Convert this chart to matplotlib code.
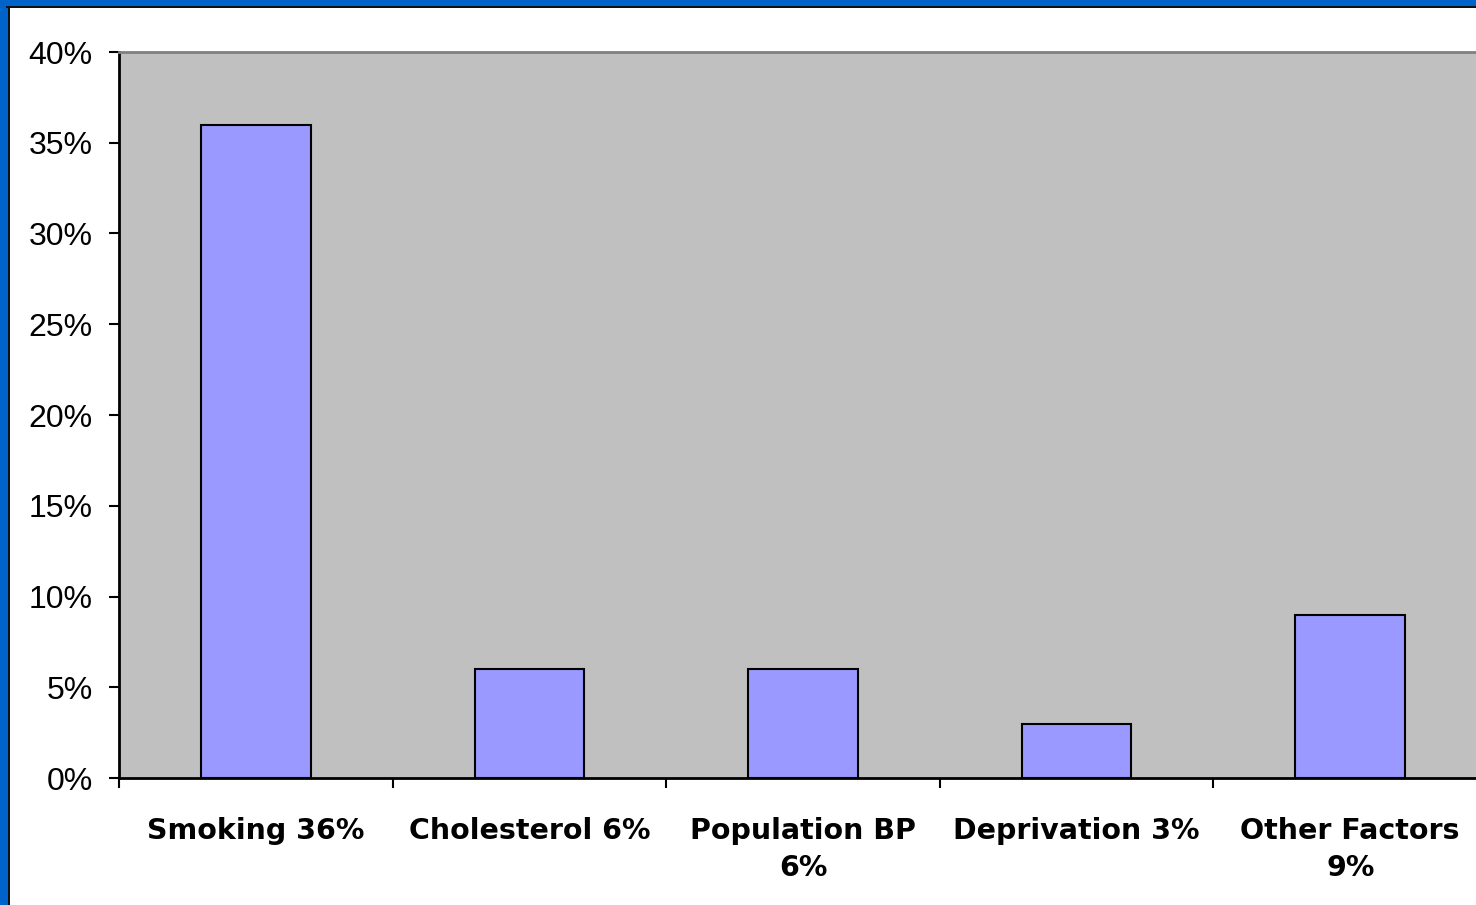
import matplotlib.pyplot as plt
from matplotlib.patches import Rectangle

categories = ["Smoking 36%", "Cholesterol 6%", "Population BP\n6%", "Deprivation 3%", "Other Factors\n9%"]
values = [36, 6, 6, 3, 9]
yticks = [0, 5, 10, 15, 20, 25, 30, 35, 40]

W, H = 1476, 905
fig = plt.figure(figsize=(W / 100, H / 100), dpi=100, facecolor="white")

# slide frame: blue band with thin dark line on left and top
px = lambda x, y, w, h: Rectangle((x / W, 1 - (y + h) / H), w / W, h / H,
                                  transform=fig.transFigure, lw=0)
for r, c in [(px(0, 0, W, 6), "#0063C9"), (px(0, 0, 8, H), "#0063C9"),
             (px(8, 6, 2, H), "#111111"), (px(6, 6, W, 2), "#111111")]:
    r.set_facecolor(c)
    fig.patches.append(r)

# axes runs slightly past the right edge
ax = fig.add_axes([119 / W, (H - 778) / H, 1368 / W, 726 / H])
ax.set_facecolor("#C0C0C0")

x = list(range(len(values)))
ax.bar(x, values, width=0.4, color="#9999FF", edgecolor="black", linewidth=1.5, zorder=3)

ax.set_xlim(-0.5, len(values) - 0.5)
ax.set_ylim(0, 40)
ax.set_yticks(yticks)
ax.set_yticklabels([f"{v}%" for v in yticks], fontsize=23, family="Liberation Sans")
ax.tick_params(axis="y", direction="out", length=7, width=1.5, pad=12, colors="black")

ax.set_xticks(x)
ax.set_xticklabels(categories, fontsize=20.5, fontweight="bold", family="DejaVu Sans",
                   linespacing=1.4)
ax.tick_params(axis="x", length=0, pad=28)
ax.set_xticks([i - 0.5 for i in range(len(values) + 1)], minor=True)
ax.tick_params(axis="x", which="minor", direction="out", length=7, width=1.5)

for s in ["left", "bottom"]:
    ax.spines[s].set_linewidth(2)
    ax.spines[s].set_color("black")
ax.spines["top"].set_color("#808080")
ax.spines["top"].set_linewidth(2)
ax.spines["right"].set_visible(False)

fig.savefig("out.png", dpi=100)
